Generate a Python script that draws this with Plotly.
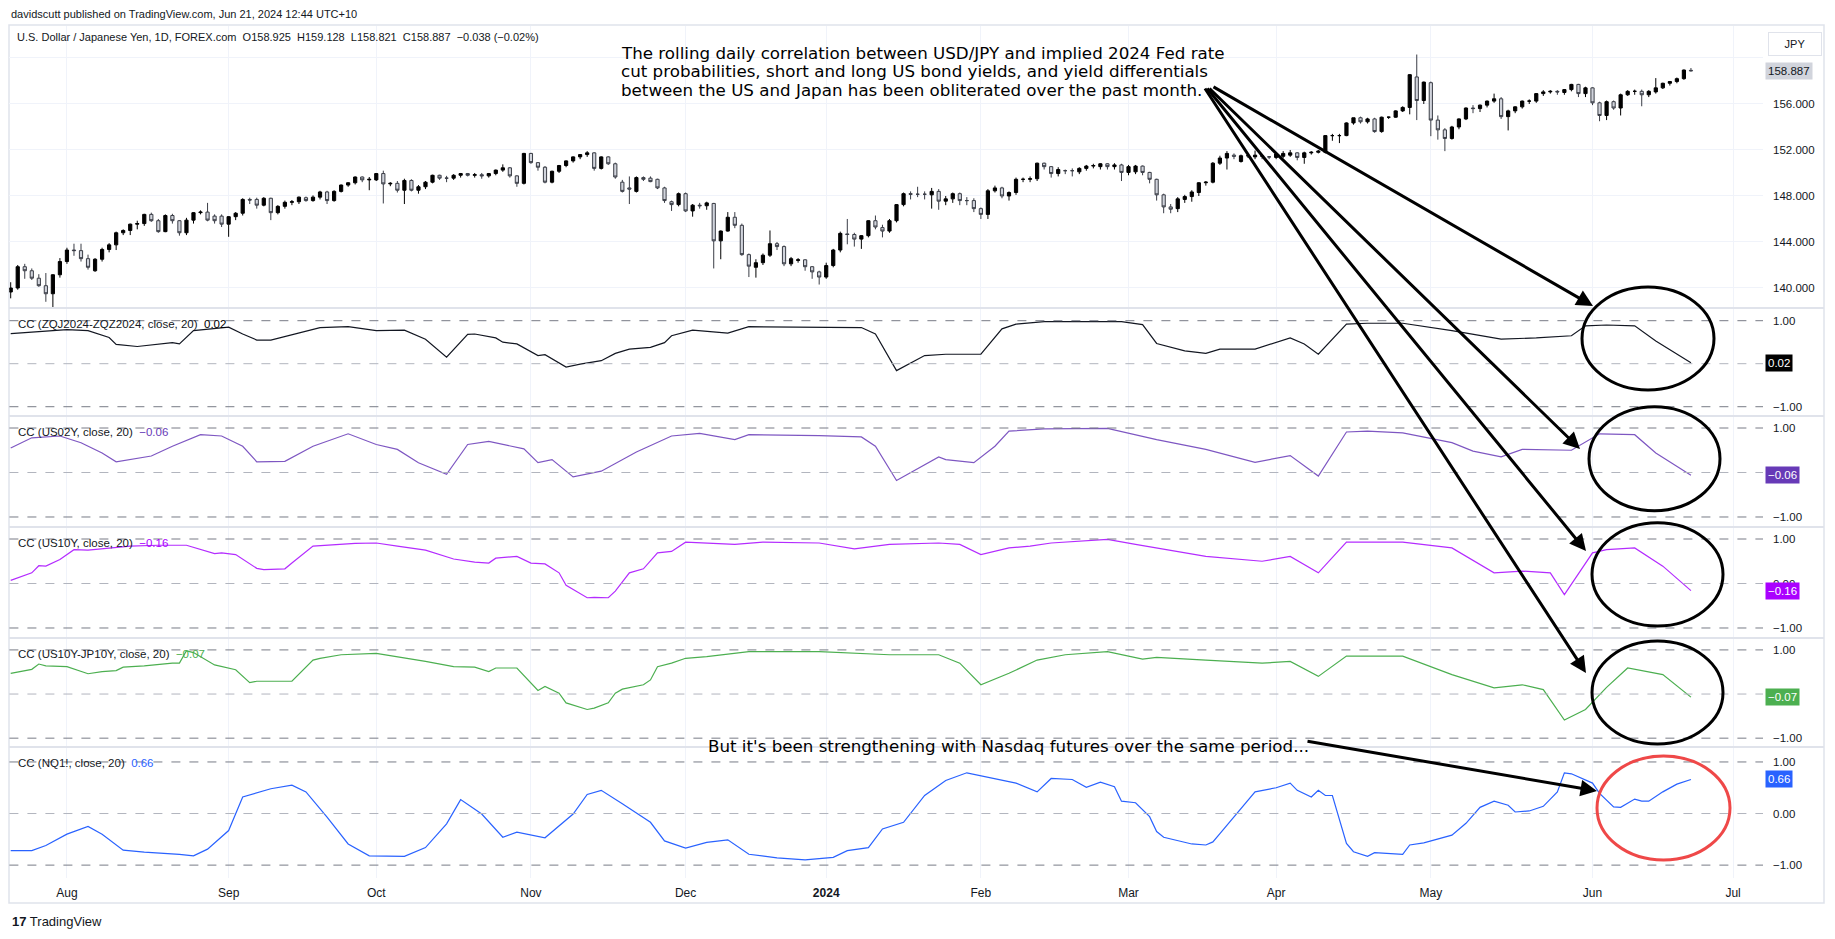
import plotly.graph_objects as go

W, H = 1835, 939

# ---------------- data ----------------
# bar index 0 = 2023-07-20 ... 239 = 2024-06-21 (daily FX bars, no bars on Dec 25 / Jan 1)
month_tick_idx = [8, 31, 52, 74, 96, 116, 138, 159, 180, 202, 225, 245]
month_tick_text = ["Aug", "Sep", "Oct", "Nov", "Dec", "<b>2024</b>", "Feb", "Mar", "Apr", "May", "Jun", "Jul"]

opens = [
    139.65, 140.0, 141.85, 141.5, 140.85, 140.2, 139.5, 141.15,
    142.3, 143.3, 143.25, 142.55, 141.5, 142.5, 143.35, 143.75, 144.8, 145.0, 145.55, 145.6, 146.4, 145.85, 144.9,
    146.3, 145.85, 144.8, 145.9, 146.55, 146.6, 146.25, 146.25,
    145.55, 146.2, 146.5, 147.7, 147.7, 147.2, 147.8, 146.55, 147.1, 147.45, 147.5, 147.85, 147.6, 147.9, 148.35,
    147.6, 148.4, 148.95, 149.15, 149.65, 149.4,
    149.4, 149.95, 149.05, 149.1, 148.5, 149.35, 148.5, 148.8, 149.2, 149.8, 149.55, 149.55, 149.8, 149.95, 149.8,
    149.85, 149.75, 149.95, 150.25, 150.45, 149.75, 149.1,
    151.7, 150.9, 150.5, 149.2, 150.15, 150.65, 151.05, 151.4, 151.6, 151.75, 150.4, 151.4, 150.8, 149.2, 148.7,
    148.4, 149.6, 149.55, 149.45, 148.7, 147.5, 147.25,
    148.2, 146.7, 147.2, 147.15, 147.35, 144.1, 144.95, 146.15, 145.45, 142.9, 141.8, 142.2, 142.85, 143.85, 143.6,
    142.1, 142.4, 142.45, 141.85, 141.4,
    140.95, 141.95, 143.3, 144.7, 144.65, 144.25, 144.55, 145.85, 145.25, 144.95, 145.85, 147.25, 148.2, 148.15,
    148.15, 148.1, 148.4, 147.55, 147.75, 148.2, 147.6, 147.6,
    146.9, 146.4, 148.45, 148.7, 148.0, 148.3, 149.45, 149.45, 149.5, 150.85, 150.55, 149.95, 150.2, 150.2, 150.1,
    150.4, 150.6, 150.55, 150.8, 150.55, 150.7,
    150.05, 150.1, 150.6, 150.05, 149.45, 148.1, 147.05, 146.9, 147.7, 147.95, 148.3, 149.15, 149.2, 150.85, 151.3,
    151.55, 151.0, 151.5, 151.4, 151.5, 151.4,
    151.35, 151.45, 151.55, 151.75, 151.35, 151.75, 151.8, 151.8, 153.25, 153.25, 153.25, 154.35, 154.8, 154.45,
    154.7, 153.6, 154.85, 154.85, 155.4, 155.7, 158.35, 156.3,
    157.85, 154.6, 153.75, 153.0, 154.0, 154.7, 155.65, 155.6, 155.9, 156.25, 156.45, 154.9, 155.4, 155.75, 156.25,
    156.25, 156.9, 157.05, 157.1, 157.0, 157.25, 157.7, 156.9,
    157.4, 156.1, 155.0, 156.2, 155.65, 156.8, 157.1, 157.1, 156.8, 157.05, 157.4, 157.8, 157.95, 158.2, 158.925,
]
highs = [
    140.5, 142.0, 142.1, 141.7, 141.2, 141.3, 141.2, 142.6,
    143.5, 143.85, 143.85, 142.9, 142.6, 143.5, 143.9, 144.9, 145.1, 145.6, 145.85, 146.45, 146.55, 146.0, 146.4,
    146.45, 145.9, 146.1, 146.6, 146.75, 147.4, 146.4, 146.4,
    146.25, 146.6, 147.8, 147.85, 147.85, 147.9, 147.85, 147.2, 147.6, 147.65, 147.95, 147.95, 148.05, 148.45, 148.45,
    148.5, 149.0, 149.2, 149.7, 149.7, 149.65,
    150.0, 150.2, 149.2, 149.3, 149.5, 149.45, 148.95, 149.3, 149.85, 149.85, 149.75, 149.9, 150.0, 150.0, 150.0,
    150.0, 150.0, 150.3, 150.75, 150.5, 149.8, 151.75,
    151.75, 150.95, 150.6, 150.2, 150.7, 151.1, 151.45, 151.65, 151.9, 151.8, 151.45, 151.45, 150.9, 149.4, 149.7,
    149.7, 149.7, 149.7, 149.5, 148.8, 147.6, 148.3,
    148.3, 147.3, 147.4, 147.5, 147.4, 145.0, 146.6, 146.6, 145.6, 143.0, 142.5, 143.0, 145.0, 144.0, 143.7,
    142.7, 142.6, 142.5, 141.9, 141.5,
    142.2, 143.4, 144.9, 146.0, 144.8, 144.6, 145.9, 146.3, 145.5, 146.0, 147.3, 148.3, 148.4, 148.8,
    148.4, 148.7, 148.6, 148.0, 148.3, 148.3, 147.9, 147.8,
    147.0, 148.6, 148.9, 148.8, 148.4, 149.6, 149.6, 149.7, 150.9, 150.9, 150.6, 150.5, 150.3, 150.4, 150.5,
    150.7, 150.8, 150.85, 150.85, 150.85, 150.8,
    150.7, 150.7, 150.65, 150.1, 149.5, 148.2, 147.3, 147.9, 148.1, 148.5, 149.2, 149.3, 150.95, 151.5, 151.9,
    151.7, 151.6, 151.65, 151.95, 151.6, 151.45,
    151.8, 151.9, 152.0, 151.8, 151.85, 151.9, 152.0, 153.3, 153.4, 153.4, 154.4, 154.8, 154.9, 154.8,
    154.8, 154.9, 154.9, 155.45, 155.8, 158.6, 160.3, 157.95,
    157.95, 155.0, 153.9, 154.1, 154.75, 155.7, 155.9, 155.95, 156.3, 156.9, 156.6, 155.5, 155.8, 156.3, 156.4,
    156.95, 157.2, 157.2, 157.2, 157.3, 157.75, 157.75, 157.5,
    157.45, 156.2, 156.3, 156.3, 156.9, 157.2, 157.25, 157.25, 157.2, 158.25, 157.85, 158.0, 158.3, 159.0, 159.128,
]
lows = [
    139.1, 139.85, 140.8, 140.7, 140.1, 138.8, 138.2, 140.9,
    142.1, 142.8, 142.3, 141.6, 141.4, 142.3, 143.1, 143.3, 144.6, 144.6, 145.1, 145.4, 145.75, 144.8, 144.85,
    145.6, 144.55, 144.6, 145.6, 146.4, 145.8, 145.6, 145.3,
    144.45, 145.9, 146.3, 147.3, 146.9, 147.1, 145.9, 146.4, 146.9, 147.2, 147.3, 147.5, 147.5, 147.7, 147.3,
    147.5, 148.3, 148.8, 149.0, 149.2, 148.5,
    149.3, 147.35, 148.85, 148.3, 147.3, 148.4, 148.2, 148.6, 149.1, 149.4, 149.2, 149.4, 149.6, 149.7, 149.6,
    149.5, 149.6, 149.8, 150.1, 149.6, 148.8, 149.0,
    150.8, 150.2, 149.1, 149.1, 150.0, 150.5, 150.9, 151.2, 151.4, 150.2, 150.3, 150.7, 149.5, 148.3, 147.3,
    148.3, 149.3, 149.2, 148.6, 147.4, 146.7, 147.1,
    146.6, 146.2, 146.9, 146.8, 141.7, 142.5, 144.9, 145.2, 142.8, 140.95, 140.9, 142.0, 142.7, 143.3, 141.9,
    141.9, 142.2, 141.5, 140.8, 140.3,
    140.8, 141.8, 143.1, 143.8, 143.6, 143.4, 144.4, 145.1, 144.4, 144.8, 145.7, 147.1, 147.7, 147.9,
    147.7, 146.9, 146.8, 147.2, 147.4, 147.2, 147.2, 146.6,
    146.0, 146.0, 148.3, 147.8, 147.6, 148.1, 149.2, 149.2, 149.3, 150.3, 149.6, 149.7, 149.9, 149.7, 149.9,
    150.2, 150.4, 150.3, 150.3, 150.3, 149.3,
    149.8, 149.9, 149.8, 149.1, 147.6, 146.5, 146.5, 146.6, 147.4, 147.5, 148.0, 148.9, 149.1, 150.7, 150.3,
    151.2, 150.9, 151.3, 151.2, 151.2, 151.2,
    151.2, 151.3, 151.4, 151.1, 150.8, 151.6, 151.7, 151.7, 152.8, 152.6, 153.2, 154.2, 154.3, 154.3,
    153.5, 153.5, 154.7, 154.8, 155.3, 155.1, 154.6, 156.0,
    153.2, 152.9, 151.9, 152.9, 153.8, 154.6, 155.2, 155.3, 155.7, 156.1, 154.7, 153.7, 155.2, 155.6, 156.0,
    156.1, 156.7, 156.9, 156.8, 156.8, 157.1, 156.6, 156.6,
    155.9, 154.5, 154.6, 155.5, 155.0, 156.7, 156.8, 155.8, 156.6, 156.9, 157.3, 157.6, 157.8, 158.1, 158.821,
]
closes = [
    140.0, 141.85, 141.5, 140.85, 140.2, 139.5, 141.15, 142.3,
    143.3, 143.25, 142.55, 141.8, 142.5, 143.35, 143.75, 144.8, 145.0, 145.55, 145.6, 146.4, 145.85, 144.9, 146.3,
    145.85, 144.8, 145.9, 146.55, 146.6, 145.9, 145.85, 145.55,
    146.2, 146.5, 147.7, 147.65, 147.2, 147.8, 146.55, 147.1, 147.45, 147.5, 147.9, 147.6, 147.9, 148.35, 147.6,
    148.4, 148.95, 149.15, 149.65, 149.4, 149.45,
    149.95, 149.05, 149.1, 148.5, 149.35, 148.5, 148.8, 149.2, 149.8, 149.55, 149.55, 149.8, 149.95, 149.8, 149.85,
    149.75, 149.95, 150.25, 150.45, 149.75, 149.1, 151.7,
    150.9, 150.5, 149.2, 150.15, 150.65, 151.05, 151.4, 151.6, 151.75, 150.4, 151.4, 150.8, 149.65, 148.4, 148.6,
    149.6, 149.45, 149.25, 148.7, 147.6, 147.25, 148.2,
    146.7, 147.2, 147.15, 147.4, 144.1, 144.95, 146.15, 145.45, 142.9, 141.9, 142.2, 142.85, 143.85, 143.6, 142.1,
    142.55, 142.45, 141.85, 141.4, 140.95,
    141.95, 143.3, 144.75, 144.65, 144.25, 144.55, 145.85, 145.3, 144.95, 145.85, 147.25, 148.2, 148.15, 148.15,
    148.15, 148.4, 147.55, 147.75, 148.2, 147.6, 147.6, 146.9,
    146.4, 148.45, 148.7, 148.0, 148.3, 149.45, 149.45, 149.5, 150.85, 150.55, 149.95, 150.3, 150.2, 150.2, 150.4,
    150.6, 150.65, 150.8, 150.55, 150.7, 150.05,
    150.55, 150.6, 150.05, 149.45, 148.1, 147.05, 146.85, 147.75, 147.95, 148.35, 149.15, 149.2, 150.85, 151.3, 151.7,
    151.45, 151.5, 151.5, 151.55, 151.45, 151.4,
    151.65, 151.7, 151.75, 151.35, 151.75, 151.8, 151.9, 153.25, 153.25, 153.25, 154.35, 154.8, 154.45, 154.7,
    153.6, 154.85, 154.85, 155.4, 155.7, 158.55, 156.3, 157.9,
    154.6, 153.75, 153.0, 154.0, 154.7, 155.65, 155.6, 155.9, 156.25, 156.45, 154.9, 155.4, 155.75, 156.25, 156.25,
    156.9, 157.05, 157.1, 157.05, 157.25, 157.7, 156.9, 157.4,
    156.1, 155.0, 156.2, 155.65, 156.8, 157.1, 157.1, 156.8, 157.1, 157.4, 157.8, 157.95, 158.2, 158.95, 158.887,
]
bar_idx = list(range(len(closes)))

# 20-day rolling correlation series (bar index, value) read at turning points
zq_idx = [0, 3, 8, 11, 14, 15, 18, 23, 24, 26, 31, 33, 35, 37, 41, 44, 48, 52, 56, 59, 62, 65, 66, 69, 70, 72, 75, 76,
          79, 81, 84, 86, 88, 91, 93, 94, 97, 102, 105, 115, 121, 123, 126, 130, 133, 138, 141, 143, 147, 158, 161,
          163, 167, 170, 172, 177, 182, 184, 186, 190, 193, 198, 205, 212, 217, 222, 224, 227, 231, 234, 239]
zq_val = [0.70, 0.74, 0.79, 0.77, 0.61, 0.45, 0.40, 0.49, 0.46, 0.77, 0.85, 0.69, 0.55, 0.55, 0.71, 0.84, 0.86, 0.77,
          0.78, 0.57, 0.15, 0.68, 0.69, 0.60, 0.50, 0.46, 0.19, 0.21, -0.08, -0.01, 0.07, 0.24, 0.34, 0.38, 0.49,
          0.65, 0.78, 0.71, 0.86, 0.84, 0.84, 0.69, -0.16, 0.19, 0.22, 0.22, 0.81, 0.92, 0.98, 0.98, 0.91, 0.47,
          0.30, 0.24, 0.34, 0.34, 0.60, 0.46, 0.22, 0.92, 0.94, 0.94, 0.77, 0.57, 0.60, 0.65, 0.88, 0.90, 0.88,
          0.53, 0.02]

us02_idx = [0, 3, 7, 10, 13, 15, 20, 23, 27, 30, 33, 35, 39, 43, 48, 52, 55, 58, 62, 65, 68, 73, 75, 77, 80, 84, 89,
            94, 98, 103, 105, 115, 121, 123, 126, 132, 133, 137, 140, 142, 147, 156, 163, 170, 177, 182, 186, 190,
            193, 198, 205, 208, 212, 215, 222, 226, 231, 234, 239]
us02_val = [0.55, 0.78, 0.82, 0.67, 0.44, 0.24, 0.37, 0.59, 0.85, 0.82, 0.59, 0.24, 0.25, 0.59, 0.87, 0.63, 0.52,
            0.22, -0.04, 0.63, 0.70, 0.53, 0.22, 0.29, -0.10, 0.03, 0.46, 0.82, 0.88, 0.74, 0.85, 0.83, 0.80, 0.59,
            -0.18, 0.35, 0.29, 0.22, 0.59, 0.93, 0.98, 0.99, 0.74, 0.52, 0.23, 0.38, -0.08, 0.91, 0.93, 0.89, 0.67,
            0.48, 0.35, 0.52, 0.50, 0.87, 0.85, 0.44, -0.06]

us10_idx = [0, 3, 4, 5, 7, 9, 11, 17, 21, 25, 29, 30, 32, 35, 36, 39, 40, 43, 49, 52, 55, 59, 63, 66, 68, 69, 72, 74,
            76, 78, 79, 82, 83, 85, 86, 88, 90, 92, 94, 96, 103, 107, 115, 120, 125, 132, 135, 138, 142, 145, 148,
            156, 160, 170, 178, 182, 186, 190, 198, 205, 211, 215, 219, 221, 225, 227, 231, 235, 239]
us10_val = [0.07, 0.24, 0.40, 0.39, 0.54, 0.76, 0.75, 0.84, 0.86, 0.86, 0.67, 0.69, 0.65, 0.34, 0.31, 0.33, 0.46,
            0.84, 0.90, 0.91, 0.84, 0.75, 0.55, 0.48, 0.46, 0.57, 0.61, 0.46, 0.44, 0.24, -0.04, -0.32, -0.31, -0.32,
            -0.17, 0.24, 0.33, 0.69, 0.72, 0.93, 0.88, 0.93, 0.91, 0.78, 0.88, 0.91, 0.88, 0.65, 0.80, 0.84, 0.91,
            0.99, 0.88, 0.61, 0.50, 0.61, 0.24, 0.93, 0.93, 0.80, 0.24, 0.28, 0.24, -0.25, 0.69, 0.76, 0.80, 0.39,
            -0.16]

spread_idx = [0, 3, 4, 5, 8, 11, 13, 15, 16, 19, 23, 24, 25, 26, 29, 32, 34, 35, 40, 43, 44, 47, 52, 55, 59, 63, 66,
              68, 69, 72, 75, 76, 78, 79, 82, 83, 85, 86, 87, 90, 91, 92, 94, 96, 99, 105, 115, 125, 132, 135, 138,
              142, 146, 150, 156, 161, 163, 170, 178, 182, 186, 190, 198, 205, 211, 215, 218, 221, 224, 227, 230,
              235, 239]
spread_val = [0.47, 0.56, 0.68, 0.64, 0.62, 0.46, 0.51, 0.53, 0.61, 0.64, 0.70, 0.70, 0.98, 0.94, 0.66, 0.55, 0.26,
              0.29, 0.29, 0.77, 0.81, 0.89, 0.92, 0.85, 0.74, 0.62, 0.61, 0.51, 0.59, 0.59, 0.08, 0.17, 0.02, -0.20,
              -0.35, -0.32, -0.20, 0.02, 0.11, 0.21, 0.32, 0.62, 0.70, 0.81, 0.85, 0.96, 0.96, 0.89, 0.89, 0.70,
              0.21, 0.47, 0.77, 0.89, 0.96, 0.79, 0.83, 0.77, 0.70, 0.74, 0.40, 0.86, 0.86, 0.44, 0.14, 0.21, 0.10,
              -0.59, -0.35, 0.15, 0.59, 0.44, -0.07]

nq_idx = [0, 3, 5, 8, 11, 13, 16, 19, 24, 26, 28, 31, 33, 37, 40, 42, 45, 48, 51, 56, 59, 62, 64, 67, 70, 72, 76, 80,
          82, 84, 87, 91, 93, 96, 99, 102, 105, 109, 113, 117, 119, 122, 124, 127, 130, 133, 136, 139, 143, 146, 148,
          151, 153, 155, 157, 158, 160, 162, 163, 164, 168, 170, 171, 172, 174, 175, 177, 180, 182, 183, 185, 186,
          187, 188, 190, 191, 193, 194, 198, 199, 201, 205, 207, 209, 211, 213, 214, 216, 218, 220, 221, 222, 225,
          226, 228, 229, 231, 232, 233, 235, 237, 239]
nq_val = [-0.72, -0.72, -0.62, -0.40, -0.25, -0.40, -0.71, -0.75, -0.79, -0.82, -0.69, -0.33, 0.32, 0.48, 0.55, 0.42,
          -0.07, -0.59, -0.82, -0.83, -0.66, -0.20, 0.27, -0.01, -0.46, -0.36, -0.47, -0.01, 0.37, 0.45, 0.19, -0.17,
          -0.53, -0.67, -0.56, -0.51, -0.79, -0.86, -0.90, -0.85, -0.72, -0.66, -0.30, -0.17, 0.35, 0.64, 0.79, 0.71,
          0.59, 0.42, 0.68, 0.66, 0.51, 0.61, 0.52, 0.24, 0.21, -0.06, -0.35, -0.46, -0.59, -0.61, -0.55, -0.39,
          -0.06, 0.10, 0.42, 0.50, 0.59, 0.45, 0.32, 0.45, 0.35, 0.35, -0.58, -0.74, -0.83, -0.76, -0.79, -0.61,
          -0.57, -0.42, -0.19, 0.12, 0.24, 0.16, 0.03, 0.05, 0.14, 0.42, 0.79, 0.77, 0.59, 0.39, 0.13, 0.12, 0.28,
          0.24, 0.24, 0.42, 0.57, 0.66]

panel_names = ["CC (ZQJ2024-ZQZ2024, close, 20)", "CC (US02Y, close, 20)", "CC (US10Y, close, 20)",
               "CC (US10Y-JP10Y, close, 20)", "CC (NQ1!, close, 20)"]
panel_last = [0.02, -0.06, -0.16, -0.07, 0.66]
panel_colors = ["#000000", "#673ab7", "#aa00ff", "#4caf50", "#2962ff"]
panel_line_colors = ["#131722", "#7e57c2", "#b42cff", "#4caf50", "#2962ff"]
# whether the 0.00 scale label stays visible next to the last-value tag
panel_zero_label = [False, False, True, False, True]
series_idx = [zq_idx, us02_idx, us10_idx, spread_idx, nq_idx]
series_val = [zq_val, us02_val, us10_val, spread_val, nq_val]

price_ticks = [140, 144, 148, 152, 156, 160]
price_tick_text = ["140.000", "144.000", "148.000", "152.000", "156.000", ""]
last_price = 158.887

# ---------------- layout helpers ----------------
def px(x):
    return x / W


def py(y):
    return 1 - y / H


FONT_UI = "Liberation Sans, Arial, sans-serif"
FONT_NOTE = "DejaVu Sans, sans-serif"
TXT = "#131722"
GRID = "#f0f3fa"

x_dom = [px(9.4), px(1763)]
x_range = [-0.185, 249.25]

# panel pixel extents (top, bottom) and value ranges
main_px = (26, 308)
main_range = [138.26, 162.78]
sub_px = [(308, 416), (416, 527), (527, 638), (638, 747), (747, 878)]
sub_ranges = [[-1.216, 1.295], [-1.225, 1.27], [-1.225, 1.27], [-1.2, 1.27], [-1.25, 1.29]]

fig = go.Figure()

fig.add_trace(go.Candlestick(
    x=bar_idx, open=opens, high=highs, low=lows, close=closes,
    xaxis="x", yaxis="y",
    increasing=dict(line=dict(color="#000000", width=1), fillcolor="#000000"),
    decreasing=dict(line=dict(color="#3a3d46", width=1), fillcolor="#d1d4dc"),
    whiskerwidth=0, hoverinfo="skip",
))

for k in range(5):
    fig.add_trace(go.Scatter(
        x=series_idx[k], y=series_val[k], mode="lines",
        line=dict(color=panel_line_colors[k], width=1.2),
        xaxis=f"x{k + 2}", yaxis=f"y{k + 2}", hoverinfo="skip",
    ))

layout = dict(
    width=W, height=H, margin=dict(l=0, r=0, t=0, b=0),
    paper_bgcolor="white", plot_bgcolor="white", showlegend=False,
    hovermode=False, boxgap=0.35,
)

common_x = dict(domain=x_dom, range=x_range, tickvals=month_tick_idx, showgrid=True, gridcolor=GRID,
                gridwidth=1, zeroline=False, ticks="", showline=False, fixedrange=True)
layout["xaxis"] = dict(common_x, anchor="y", showticklabels=False, rangeslider=dict(visible=False))
for k in range(5):
    ax = dict(common_x, anchor=f"y{k + 2}", matches="x", showticklabels=(k == 4))
    if k == 4:
        ax.update(ticktext=month_tick_text, tickfont=dict(family=FONT_UI, size=12, color=TXT),
                  ticklabelstandoff=6)
    layout[f"xaxis{k + 2}"] = ax

layout["yaxis"] = dict(
    domain=[py(main_px[1]), py(main_px[0])], range=main_range, side="right", anchor="x",
    tickvals=price_ticks, ticktext=price_tick_text, showgrid=True, gridcolor=GRID,
    zeroline=False, ticks="", tickfont=dict(family=FONT_UI, size=11.5, color=TXT), ticklabelstandoff=9,
    fixedrange=True,
)
for k in range(5):
    t, b = sub_px[k]
    zero_txt = "0.00" if panel_zero_label[k] else ""
    layout[f"yaxis{k + 2}"] = dict(
        domain=[py(b), py(t)], range=sub_ranges[k], side="right", anchor=f"x{k + 2}",
        tickvals=[-1, 0, 1], ticktext=["\u22121.00", zero_txt, "1.00"], showgrid=False, zeroline=False,
        ticks="", tickfont=dict(family=FONT_UI, size=11.5, color=TXT), ticklabelstandoff=9, fixedrange=True,
    )

shapes = []
# outer frame and panel separators
shapes.append(dict(type="rect", xref="paper", yref="paper", x0=px(9), x1=px(1824), y0=py(903), y1=py(25),
                   line=dict(color="#e0e3eb", width=1.5), layer="below"))
for t, b in sub_px:
    shapes.append(dict(type="line", xref="paper", yref="paper", x0=px(9), x1=px(1824), y0=py(t), y1=py(t),
                       line=dict(color="#e0e3eb", width=2)))
# dashed bands in each correlation panel
for k in range(5):
    for lvl, col in ((1, "#787b86"), (0, "#b2b5be"), (-1, "#787b86")):
        shapes.append(dict(type="line", xref="paper", yref=f"y{k + 2}", x0=x_dom[0], x1=x_dom[1], y0=lvl, y1=lvl,
                           line=dict(color=col, width=1, dash="dash")))
# highlight ellipses
for (x0, x1, y0, y1) in [(1582, 1714, 287, 390), (1589, 1720, 406.7, 510.7), (1592, 1723, 522.7, 626),
                         (1592, 1723, 641, 744)]:
    shapes.append(dict(type="circle", xref="paper", yref="paper", x0=px(x0), x1=px(x1), y0=py(y1), y1=py(y0),
                       line=dict(color="#000000", width=3)))
shapes.append(dict(type="circle", xref="paper", yref="paper", x0=px(1597), x1=px(1730), y0=py(860), y1=py(756),
                   line=dict(color="#ef4848", width=3)))
layout["shapes"] = shapes

ann = []
# header + legend
ann.append(dict(text="davidscutt published on TradingView.com, Jun 21, 2024 12:44 UTC+10", x=px(9), y=py(14),
                xref="paper", yref="paper", xanchor="left", yanchor="middle", showarrow=False,
                font=dict(family=FONT_UI, size=11, color=TXT)))
ann.append(dict(text="U.S. Dollar / Japanese Yen, 1D, FOREX.com  O158.925  H159.128  L158.821  C158.887  "
                     "\u22120.038 (\u22120.02%)",
                x=px(15), y=py(37), xref="paper", yref="paper", xanchor="left", yanchor="middle",
                showarrow=False, font=dict(family=FONT_UI, size=11, color=TXT)))
# JPY box
ann.append(dict(text="JPY", x=px(1795), y=py(44), xref="paper", yref="paper", xanchor="center", yanchor="middle",
                showarrow=False, width=48, height=18, bordercolor="#e0e3eb", borderwidth=1, borderpad=2,
                font=dict(family=FONT_UI, size=11, color=TXT)))
# last price label
ann.append(dict(text=f"{last_price:.3f}", x=px(1765), y=last_price, xref="paper", yref="y", xanchor="left",
                yanchor="middle", showarrow=False, bgcolor="#d1d4dc", borderpad=2,
                font=dict(family=FONT_UI, size=11.5, color=TXT)))
# panel titles and last-value tags
for k in range(5):
    t, b = sub_px[k]
    val = panel_last[k]
    vtxt = f"{val:.2f}".replace("-", "\u2212")
    ann.append(dict(text=f'{panel_names[k]}  <span style="color:{panel_colors[k]}">{vtxt}</span>',
                    x=px(16), y=py(t + 16), xref="paper", yref="paper", xanchor="left", yanchor="middle",
                    showarrow=False, font=dict(family=FONT_UI, size=11.5, color=TXT)))
    ann.append(dict(text=vtxt, x=px(1765), y=val, xref="paper", yref=f"y{k + 2}", xanchor="left",
                    yanchor="middle", showarrow=False, bgcolor=panel_colors[k], borderpad=2,
                    font=dict(family=FONT_UI, size=11.5, color="white")))
# commentary text
note_lines = ["The rolling daily correlation between USD/JPY and implied 2024 Fed rate",
              "cut probabilities, short and long US bond yields, and yield differentials",
              "between the US and Japan has been obliterated over the past month."]
for j, line in enumerate(note_lines):
    ann.append(dict(text=line, x=px(619), y=py(53 + 18.3 * j), xref="paper", yref="paper", xanchor="left",
                    yanchor="middle", showarrow=False, font=dict(family=FONT_NOTE, size=16.7, color="#000000")))
ann.append(dict(text="But it's been strengthening with Nasdaq futures over the same period...", x=px(706),
                y=py(746), xref="paper", yref="paper", xanchor="left", yanchor="middle", showarrow=False,
                font=dict(family=FONT_NOTE, size=16.7, color="#000000")))
# arrows (tail -> head, pixel offsets)
for (tx, ty, hx, hy) in [(1212, 86, 1593, 306), (1208, 87, 1580, 449), (1206, 87, 1586, 551),
                         (1204, 87, 1586, 673), (1306, 741, 1597, 791)]:
    ann.append(dict(text="", x=px(hx), y=py(hy), ax=tx - hx, ay=ty - hy, xref="paper", yref="paper",
                    axref="pixel", ayref="pixel", showarrow=True, arrowhead=2, arrowsize=1.1, arrowwidth=3,
                    arrowcolor="#000000", standoff=0))
# footer logo
ann.append(dict(text="<b>17</b> TradingView", x=px(10), y=py(921), xref="paper", yref="paper", xanchor="left",
                yanchor="middle", showarrow=False, font=dict(family=FONT_UI, size=13, color=TXT)))
layout["annotations"] = ann

fig.update_layout(**layout)
fig.write_html("out.html")
